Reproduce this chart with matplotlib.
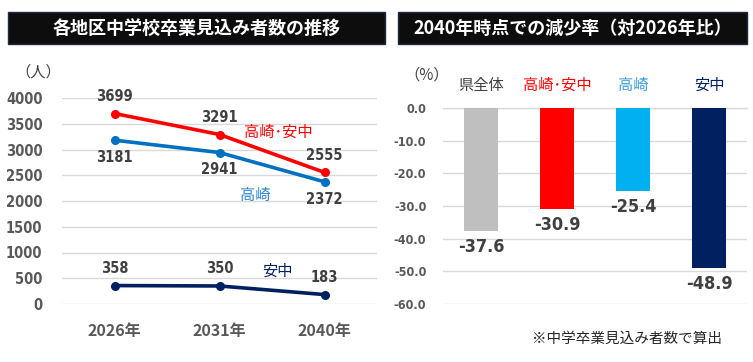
import matplotlib
matplotlib.use("Agg")
import matplotlib.pyplot as plt
from matplotlib.patches import Rectangle

# data
years = ["2026年", "2031年", "2040年"]
takasaki_annaka = [3699, 3291, 2555]
takasaki = [3181, 2941, 2372]
annaka = [358, 350, 183]

regions = ["県全体", "高崎･安中", "高崎", "安中"]
decline_rate = [-37.6, -30.9, -25.4, -48.9]

JP = ["Noto Sans CJK JP", "DejaVu Sans"]
NUM = ["DejaVu Sans"]
NUM_STRETCH = "condensed"

GRAY = "#595959"
RED = "#ff0000"
BLUE = "#0070c0"
NAVY = "#002060"

W, H = 753, 362
fig = plt.figure(figsize=(W / 100, H / 100), dpi=100)


def px_axes(x0, y_top, x1, y_bot):
    return fig.add_axes([x0 / W, 1 - y_bot / H, (x1 - x0) / W, (y_bot - y_top) / H])


def title_bar(x0, x1, text):
    fig.patches.append(Rectangle((x0 / W, 1 - 44 / H), (x1 - x0) / W, 32 / H,
                                 transform=fig.transFigure, facecolor="#0d0d0d",
                                 edgecolor="#1f2a44", linewidth=1))
    fig.text((x0 + x1) / 2 / W, 1 - 28.5 / H, text, color="white", fontsize=13,
             fontweight="bold", family=JP, ha="center", va="center")


def num_style(t, size):
    t.set_family(NUM)
    t.set_stretch(NUM_STRETCH)
    t.set_fontsize(size)
    t.set_fontweight("bold")


title_bar(8, 385, "各地区中学校卒業見込み者数の推移")
title_bar(398, 747, "2040年時点での減少率（対2026年比）")

# ---- left: line chart
ax = px_axes(62, 98, 377, 304)
xs = range(len(years))
ax.plot(xs, takasaki_annaka, color=RED, lw=2.6, marker="o", ms=5.5, clip_on=False, zorder=3)
ax.plot(xs, takasaki, color=BLUE, lw=2.6, marker="o", ms=5.5, clip_on=False, zorder=3)
ax.plot(xs, annaka, color=NAVY, lw=2.6, marker="o", ms=5.5, clip_on=False, zorder=3)
ax.set_xlim(-0.5, 2.5)
ax.set_ylim(0, 4000)
ax.set_yticks(range(0, 4001, 500))
ax.grid(axis="y", color="#d9d9d9", lw=1)
ax.set_axisbelow(True)
for s in ax.spines.values():
    s.set_visible(False)
ax.tick_params(length=0)
ax.set_xticks(list(xs))
ax.set_xticklabels(years, family=JP, fontsize=11.5, color=GRAY, fontweight="bold")
ax.tick_params(axis="x", pad=14)
ax.tick_params(axis="y", pad=14)
for lab in ax.get_yticklabels():
    num_style(lab, 10.5)
    lab.set_color(GRAY)

for series, dy in ((takasaki_annaka, 7), (takasaki, -7), (annaka, 7)):
    for i, v in enumerate(series):
        t = ax.annotate(str(v), (i, v), xytext=(0, dy), textcoords="offset points", ha="center",
                        va="bottom" if dy > 0 else "top", color="#404040")
        num_style(t, 10.5)

fig.text(278 / W, 1 - 132 / H, "高崎･安中", color=RED, fontsize=11, family=JP, ha="center", va="center")
fig.text(255 / W, 1 - 195 / H, "高崎", color="#2a86d0", fontsize=11, family=JP, ha="center", va="center")
fig.text(277 / W, 1 - 271 / H, "安中", color=NAVY, fontsize=11, family=JP, ha="center", va="center")
fig.text(38 / W, 1 - 72 / H, "（人）", color="#404040", fontsize=11, family=JP, ha="center", va="center")

# ---- right: bar chart
bx = px_axes(443, 108, 747, 304)
bar_colors = ["#bfbfbf", RED, "#00b0f0", NAVY]
label_colors = ["#404040", RED, "#3a9ad9", NAVY]
bpos = range(len(regions))
bx.bar(bpos, decline_rate, width=0.46, color=bar_colors, zorder=2)
bx.set_xlim(-0.5, 3.5)
bx.set_ylim(-60, 0)
bx.set_yticks(range(-60, 1, 10))
bx.set_yticklabels([f"{t:.1f}" for t in range(-60, 1, 10)])
bx.grid(axis="y", color="#d9d9d9", lw=1, zorder=0)
bx.set_axisbelow(True)
bx.set_xticks([])
for s in bx.spines.values():
    s.set_visible(False)
bx.tick_params(length=0, pad=12)
for lab in bx.get_yticklabels():
    num_style(lab, 9)
    lab.set_color(GRAY)
# keep the top gridline at 0 visible
bx.axhline(0, color="#d9d9d9", lw=1, zorder=1, clip_on=False)

for i, v in enumerate(decline_rate):
    t = bx.annotate(f"{v:.1f}", (i, v), xytext=(0, -5), textcoords="offset points", ha="center",
                    va="top", color="#404040")
    num_style(t, 13)
    bx.annotate(regions[i], (i, 0), xytext=(0, 10), textcoords="offset points", ha="center",
                va="bottom", family=JP, fontsize=11, color=label_colors[i],
                annotation_clip=False)

fig.text(427 / W, 1 - 75 / H, "（%）", color="#404040", fontsize=11, family=JP, ha="center", va="center")
fig.text(627 / W, 1 - 339 / H, "※中学卒業見込み者数で算出", color="#262626", fontsize=10.5,
         family=JP, ha="center", va="center")

fig.savefig("out.png", dpi=100)
